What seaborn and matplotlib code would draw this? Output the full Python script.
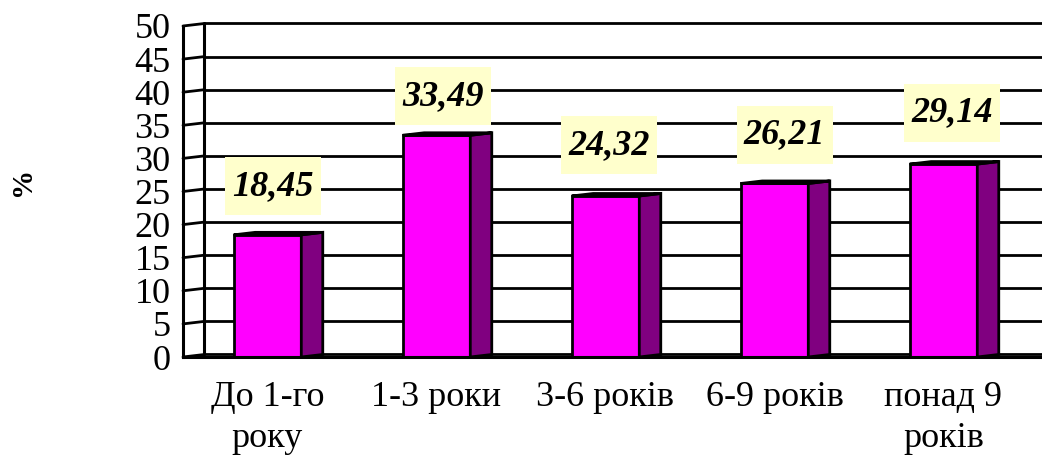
import numpy as np
import pandas as pd
import matplotlib
matplotlib.use("Agg")
import matplotlib.pyplot as plt
from matplotlib.patches import Rectangle
import seaborn as sns

# ---- data ----
categories = ["До 1-го\nроку", "1-3 роки", "3-6 років", "6-9 років", "понад 9\nроків"]
values = [18.45, 33.49, 24.32, 26.21, 29.14]
value_labels = ["18,45", "33,49", "24,32", "26,21", "29,14"]

# label box centres (layout only, data coords)
label_x = [0.03, 1.04, 2.02, 3.06, 4.05]
label_y = [25.8, 39.4, 32.0, 33.6, 36.9]

df = pd.DataFrame({"cat": categories, "val": values})

sns.set_style("white")
plt.rcParams["font.family"] = ["Liberation Serif", "DejaVu Serif"]
plt.rcParams["text.color"] = "black"
plt.rcParams["xtick.color"] = "black"
plt.rcParams["ytick.color"] = "black"
plt.rcParams["axes.labelcolor"] = "black"

fig = plt.figure(figsize=(10.42, 4.55), dpi=100)
ax = fig.add_axes([183 / 1042, (455 - 357) / 455, (1042 - 183) / 1042, (357 - 26) / 455])

front = "#FF00FF"
side = "#800080"
dx, dy = 0.127, 0.38  # 3d depth offset in data units
ymax = 50
xmax = -0.5 + (1042 - 183) / 169

sns.barplot(data=df, x="cat", y="val", width=0.4, color=front, saturation=1,
            edgecolor="black", linewidth=2, ax=ax, zorder=3)

# side + top faces of each bar
for p in list(ax.patches):
    x0, w, h = p.get_x(), p.get_width(), p.get_height()
    x1 = x0 + w
    ax.fill([x1, x1 + dx, x1 + dx, x1], [0, dy, h + dy, h], color=side,
            ec="black", lw=2, zorder=3)
    ax.fill([x0, x0 + dx, x1 + dx, x1], [h, h + dy, h + dy, h], color=side,
            ec="black", lw=2, zorder=3)

# back wall: gridlines, left wall and slanted ticks
ticks = np.arange(0, ymax + 1, 5)
for t in ticks:
    ax.plot([-0.5 + dx, xmax + 0.2], [t + dy, t + dy], color="black", lw=2,
            zorder=1, clip_on=False, solid_capstyle="butt")
    ax.plot([-0.5, -0.5 + dx], [t, t + dy], color="black", lw=2,
            zorder=1, clip_on=False)
ax.plot([-0.5 + dx, -0.5 + dx], [dy, ymax + dy], color="black", lw=2.2,
        zorder=1, clip_on=False)

ax.set_xlim(-0.5, xmax)
ax.set_ylim(0, ymax)
ax.set_yticks(ticks)
ax.set_yticklabels([str(t) for t in ticks], fontsize=26)
ax.set_xticks(range(len(categories)))
ax.set_xticklabels(categories, fontsize=26, linespacing=1.32)
ax.set_xticks(np.arange(-0.5, len(categories), 1), minor=True)
ax.tick_params(axis="x", which="major", length=0, pad=17)
ax.tick_params(axis="x", which="minor", length=5.5, width=2, direction="out", color="black")
ax.tick_params(axis="y", length=7, width=2, direction="out", color="black", pad=2)
ax.set_xlabel("")
ax.set_ylabel("%", fontsize=21, fontweight="bold", rotation=90, labelpad=0)
ax.yaxis.set_label_coords(-(183 - 36) / 859, (357 - 181) / 331)

for s in ["top", "right"]:
    ax.spines[s].set_visible(False)
for s in ["left", "bottom"]:
    ax.spines[s].set_visible(True)
    ax.spines[s].set_linewidth(2.2)
    ax.spines[s].set_color("black")
ax.spines["bottom"].set_zorder(4)

# value labels on pale yellow boxes
bw, bh = 96 / 169, 58 / 6.62
for lx, ly, txt in zip(label_x, label_y, value_labels):
    ax.add_patch(Rectangle((lx - bw / 2, ly - bh / 2), bw, bh, fc="#FFFFCC",
                           ec="none", zorder=5, clip_on=False))
    ax.text(lx, ly, txt, ha="center", va="center", fontsize=26, fontweight="bold",
            fontstyle="italic", color="black", zorder=6)

fig.savefig("out.png", dpi=100)
